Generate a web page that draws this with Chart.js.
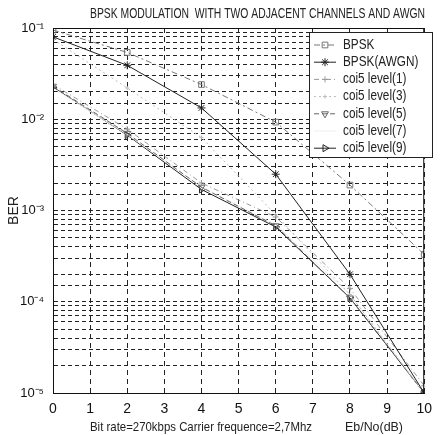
<!DOCTYPE html>
<html>
<head>
<meta charset="utf-8">
<script src="https://cdn.jsdelivr.net/npm/chart.js@4.4.1/dist/chart.umd.min.js"></script>
<style>
  html, body { margin: 0; padding: 0; background: #fff; }
</style>
</head>
<body>
<canvas id="berChart" width="440" height="435"></canvas>
<script>
// Eb/No (dB) sample points
const ebno = [0, 2, 4, 6, 8, 10];

// BER values
const bpsk      = [0.095, 0.054, 0.024, 0.0093, 0.0019, 0.00033];
const bpskAwgn  = [0.080, 0.039, 0.0133, 0.0025, 0.00020, 0.00001];
const coifLev1  = [0.024, 0.0078, 0.0020, 0.00085, 0.00014, 0.000012];
const coifLev3  = [0.075, 0.022, 0.0063, 0.0009, 0.00012, 0.00001];
const coifLev5  = [0.023, 0.0070, 0.0018, 0.00068, 0.00011, 0.00001];
const coifLev7  = [0.022, 0.0068, 0.0018, 0.00070, 0.00012, 0.00001];
const coifLev9  = [0.0225, 0.0067, 0.0017, 0.00066, 0.00011, 0.00001];

const xTicks = [0, 1, 2, 3, 4, 5, 6, 7, 8, 9, 10];
const yDecadeLabels = { '-1': '10⁻¹', '-2': '10⁻²', '-3': '10⁻³', '-4': '10⁻⁴', '-5': '10⁻⁵' };

const titleText = 'BPSK MODULATION  WITH TWO ADJACENT CHANNELS AND AWGN';
const xTitleLeft = 'Bit rate=270kbps Carrier frequence=2,7Mhz';
const xTitleRight = 'Eb/No(dB)';

const FONT = '"Liberation Sans", Arial, sans-serif';

const pts = vals => vals.map((v, i) => ({ x: ebno[i], y: v }));

const series = [
  { label: 'BPSK', data: pts(bpsk), borderColor: '#777', borderDash: [6, 3, 2, 3], pointStyle: 'rect', pointRadius: 4, rot: 0 },
  { label: 'BPSK(AWGN)', data: pts(bpskAwgn), borderColor: '#222', borderDash: [], pointStyle: 'star', pointRadius: 4, rot: 0 },
  { label: 'coi5 level(1)', data: pts(coifLev1), borderColor: '#999', borderDash: [5, 3, 1, 3], pointStyle: 'cross', pointRadius: 3, rot: 0 },
  { label: 'coi5 level(3)', data: pts(coifLev3), borderColor: '#bbb', borderDash: [2, 3], pointStyle: 'cross', pointRadius: 2, rot: 0 },
  { label: 'coi5 level(5)', data: pts(coifLev5), borderColor: '#666', borderDash: [5, 3], pointStyle: 'triangle', pointRadius: 4, rot: 180 },
  { label: 'coi5 level(7)', data: pts(coifLev7), borderColor: '#eee', borderDash: [], pointStyle: 'circle', pointRadius: 0, rot: 0 },
  { label: 'coi5 level(9)', data: pts(coifLev9), borderColor: '#222', borderDash: [], pointStyle: 'triangle', pointRadius: 4, rot: 90 }
];

const datasets = series.map(s => ({
  label: s.label,
  data: s.data,
  borderColor: s.borderColor,
  borderDash: s.borderDash,
  borderWidth: 1,
  pointStyle: s.pointStyle,
  pointRadius: s.pointRadius,
  pointRotation: s.rot,
  pointBorderColor: s.borderColor,
  pointBackgroundColor: 'rgba(255,255,255,0)',
  pointBorderWidth: 1,
  tension: 0,
  fill: false
}));

// draw text squeezed horizontally to a given width
function squeezeText(ctx, text, x, y, width) {
  const w = ctx.measureText(text).width;
  const k = Math.min(1, width / w);
  ctx.save();
  ctx.translate(x, y);
  ctx.scale(k, 1);
  ctx.fillText(text, 0, 0);
  ctx.restore();
}

// plot frame, title, x title and boxed legend
const frame = {
  id: 'frame',
  afterDraw(chart) {
    const { ctx, chartArea: a } = chart;
    ctx.save();
    ctx.strokeStyle = '#111';
    ctx.lineWidth = 1;
    ctx.setLineDash([]);
    ctx.strokeRect(a.left + 0.5, a.top + 0.5, a.right - a.left - 1, a.bottom - a.top);

    ctx.fillStyle = '#222';
    ctx.textAlign = 'left';
    ctx.textBaseline = 'middle';
    ctx.font = '14px ' + FONT;
    squeezeText(ctx, titleText, 90, 14, 335);

    ctx.font = '13px ' + FONT;
    squeezeText(ctx, xTitleLeft, 90, 427, 222);
    squeezeText(ctx, xTitleRight, 345, 427, 58);

    // legend box
    const bx = 309, by = 32, bw = 123, bh = 125;
    ctx.fillStyle = '#fff';
    ctx.fillRect(bx, by, bw, bh);
    ctx.strokeStyle = '#222';
    ctx.strokeRect(bx + 0.5, by + 0.5, bw, bh);
    ctx.font = '14px ' + FONT;
    series.forEach((s, i) => {
      const y = 45 + i * 17.2;
      ctx.strokeStyle = s.borderColor;
      ctx.setLineDash(s.borderDash);
      ctx.beginPath();
      ctx.moveTo(314, y);
      ctx.lineTo(336, y);
      ctx.stroke();
      ctx.setLineDash([]);
      if (s.pointRadius > 0) {
        ctx.fillStyle = 'rgba(255,255,255,0)';
        Chart.helpers.drawPoint(ctx, { pointStyle: s.pointStyle, radius: s.pointRadius, rotation: s.rot, borderWidth: 1 }, 325, y);
      }
      ctx.fillStyle = '#222';
      const w = ctx.measureText(s.label).width;
      squeezeText(ctx, s.label, 343, y, w * 0.84);
    });
    ctx.restore();
  }
};

new Chart(document.getElementById('berChart'), {
  type: 'line',
  data: { datasets },
  options: {
    responsive: false,
    animation: false,
    layout: { padding: { left: 0, right: 3, top: 28, bottom: 0 } },
    plugins: { legend: { display: false }, tooltip: { enabled: false } },
    scales: {
      x: {
        type: 'linear',
        min: 0,
        max: 10,
        afterBuildTicks: scale => { scale.ticks = xTicks.map(v => ({ value: v })); },
        afterFit: scale => { scale.height = 42; },
        grid: { color: '#222', lineWidth: 1, drawTicks: false },
        border: { display: true, color: '#111', dash: [5, 4] },
        ticks: { color: '#111', font: { size: 14, family: FONT }, padding: 8, maxRotation: 0 }
      },
      y: {
        type: 'logarithmic',
        min: 1e-5,
        max: 1e-1,
        afterFit: scale => { scale.width = 53; },
        grid: { color: '#222', lineWidth: 1, drawTicks: false },
        border: { display: true, color: '#111', dash: [4, 3] },
        ticks: {
          autoSkip: false,
          color: '#111',
          padding: 9,
          font: { size: 13, family: FONT },
          callback: v => {
            const e = Math.log10(v);
            return Math.abs(e - Math.round(e)) < 1e-6 ? (yDecadeLabels[String(Math.round(e))] || '') : '';
          }
        },
        title: { display: true, text: 'BER', color: '#222', font: { size: 14, family: FONT }, padding: { top: 6, bottom: 0 } }
      }
    }
  },
  plugins: [frame]
});
</script>
</body>
</html>
